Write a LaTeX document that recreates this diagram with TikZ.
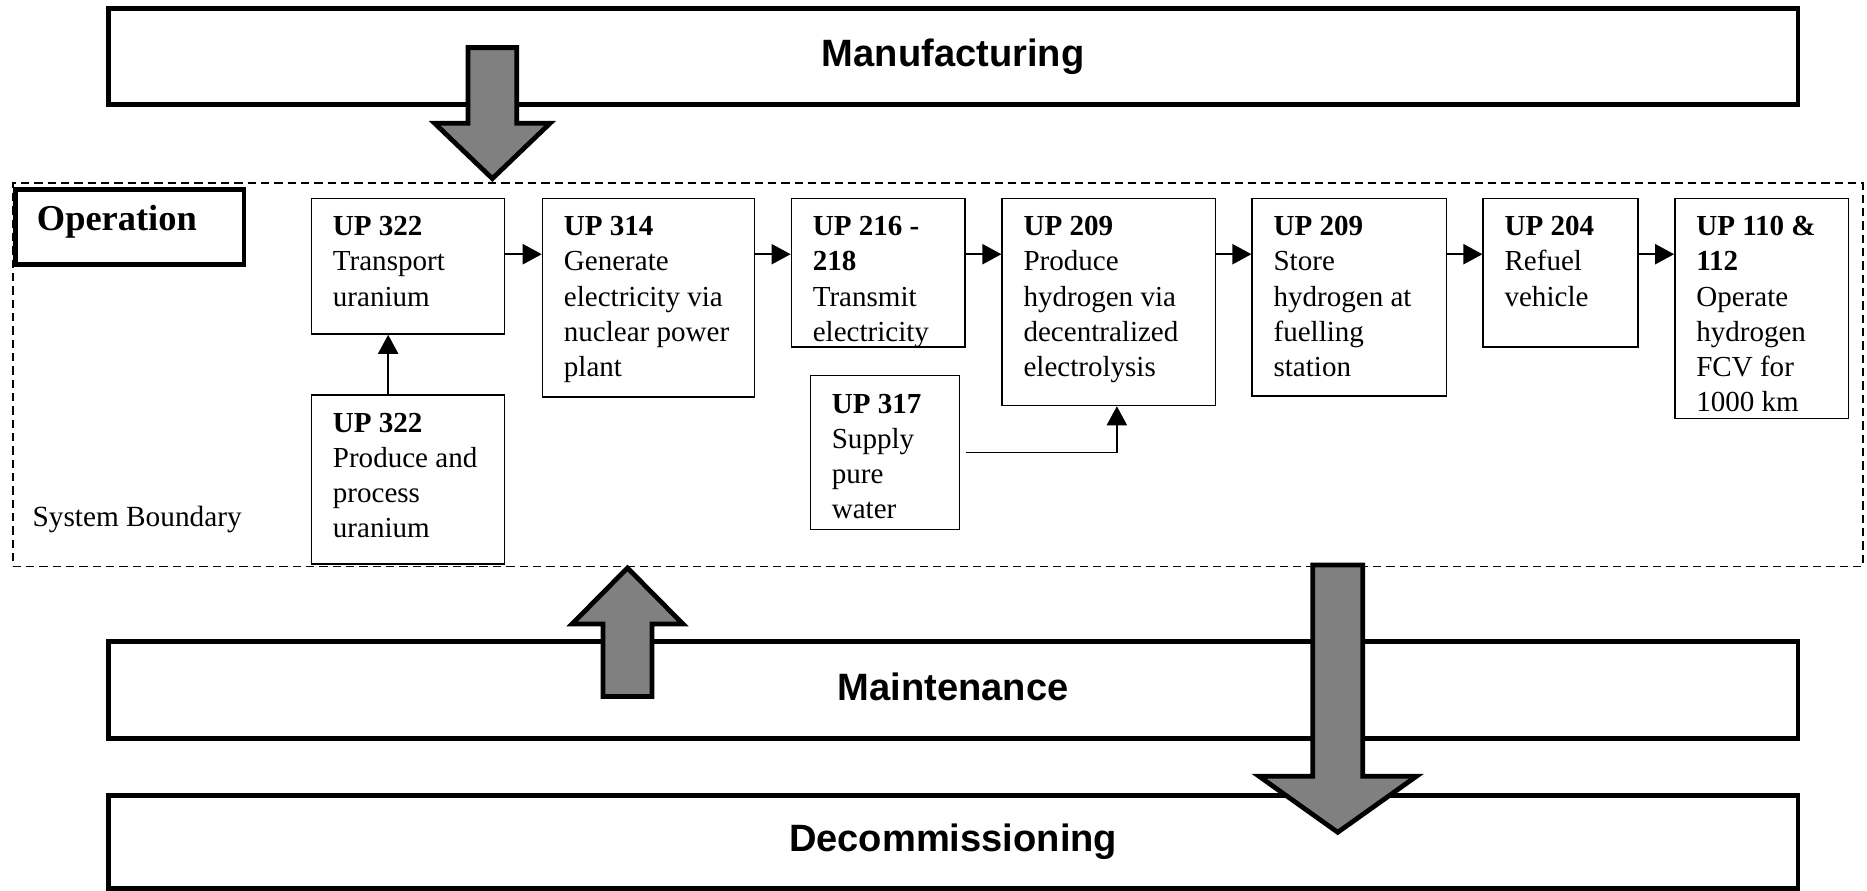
\documentclass[tikz,border=0pt]{standalone}
\usepackage{fontspec}
\setmainfont{Liberation Serif}
\newfontfamily\phasefont{Liberation Sans}
\usetikzlibrary{arrows.meta}
\definecolor{blockgray}{RGB}{128,128,128}

% text cell: width, height, first baseline depth, content
\newcommand\cellbox[4]{%
  \parbox[t][#2][t]{#1}{\raggedright\leftskip=9pt\rule{0pt}{#3}#4}}

\tikzset{
  upbox/.style={draw, line width=0.6pt, fill=white, inner sep=0pt, anchor=north west,
    font=\fontsize{12.2pt}{14.75pt}\selectfont},
  opbox/.style={draw, line width=2pt, fill=white, inner sep=0pt, anchor=north west,
    font=\bfseries\fontsize{15.3pt}{18pt}\selectfont},
  phase/.style={draw, line width=2pt, fill=white, inner sep=0pt,
    minimum width=709.5pt, minimum height=40.5pt,
    font=\phasefont\bfseries\fontsize{16pt}{19pt}\selectfont,
    text height=10pt, text depth=1.5pt},
  boundary/.style={draw, line width=0.7pt, dash pattern=on 3.5pt off 2.1pt,
    inner sep=0pt, anchor=north west},
  flow/.style={line width=0.6pt, -{Triangle[length=8pt,width=8.5pt]}},
  block/.style={draw, line width=2pt, fill=blockgray, line join=miter},
}

\begin{document}
\begin{tikzpicture}[x=0.5pt, y=-0.5pt]
\useasboundingbox (0,0) rectangle (1568,748);

% system boundary
\node[boundary, minimum width=777pt, minimum height=161pt] (sysb) at (10,153) {};
\node[anchor=base west, inner sep=0pt, font=\fontsize{12.3pt}{14.75pt}\selectfont]
  (sblabel) at (27,442) {System Boundary};

% operation label
\node[opbox] (oper) at (11,157) {\cellbox{96pt}{31.5pt}{17.5pt}{Operation}};

% unit processes
\node[upbox] (t322) at (261,166) {\cellbox{81pt}{57pt}{15.75pt}{\textbf{UP 322}\\Transport\\uranium}};
\node[upbox] (p322) at (261,331) {\cellbox{81pt}{71pt}{15.75pt}{\textbf{UP 322}\\Produce and\\process\\uranium}};
\node[upbox] (g314) at (455,166) {\cellbox{89pt}{83.5pt}{15.75pt}{\textbf{UP 314}\\Generate\\electricity via\\nuclear power\\plant}};
\node[upbox] (e216) at (664,166) {\cellbox{73pt}{62.5pt}{15.75pt}{\textbf{UP 216 -}\\\textbf{218}\\Transmit\\electricity}};
\node[upbox] (h209) at (841,166) {\cellbox{89.5pt}{87pt}{15.75pt}{\textbf{UP 209}\\Produce\\hydrogen via\\decentralized\\electrolysis}};
\node[upbox] (w317) at (680,315) {\cellbox{62.5pt}{64.5pt}{15.75pt}{\textbf{UP 317}\\Supply\\pure\\water}};
\node[upbox] (s209) at (1051,166) {\cellbox{81.5pt}{83pt}{15.75pt}{\textbf{UP 209}\\Store\\hydrogen at\\fuelling\\station}};
\node[upbox] (r204) at (1245,166) {\cellbox{65pt}{62.5pt}{15.75pt}{\textbf{UP 204}\\Refuel\\vehicle}};
\node[upbox] (f110) at (1406,166) {\cellbox{73pt}{92.5pt}{15.75pt}{\textbf{UP 110 \&}\\\textbf{112}\\Operate\\hydrogen\\FCV for\\1000 km}};

% process chain
\coordinate (row) at (0,213.5);
\coordinate (upcol) at (326,0);
\coordinate (watercol) at (938,0);
\draw[flow] (t322.east |- row) -- (g314.west |- row);
\draw[flow] (g314.east |- row) -- (e216.west |- row);
\draw[flow] (e216.east |- row) -- (h209.west |- row);
\draw[flow] (h209.east |- row) -- (s209.west |- row);
\draw[flow] (s209.east |- row) -- (r204.west |- row);
\draw[flow] (r204.east |- row) -- (f110.west |- row);
\draw[flow] (p322.north -| upcol) -- (t322.south -| upcol);
\draw[flow] ([xshift=2.5pt]w317.east) -| (h209.south -| watercol);

% life-cycle phases
\node[phase] (manu) at (800.5,47.5) {Manufacturing};
\node[phase] (main) at (800.5,579.5) {Maintenance};
\node[phase, minimum height=39pt] (deco) at (800.5,707) {Decommissioning};

% block arrows between phases and operation
\draw[block] (393,40) -- (434,40) -- (434,103.5) -- (462,103.5) -- (413.5,150)
  -- (365,103.5) -- (393,103.5) -- cycle;
\draw[block] (506.5,585) -- (547.5,585) -- (547.5,524) -- (573.5,524) -- (527,477)
  -- (480.5,524) -- (506.5,524) -- cycle;
\draw[block] (1102.5,474.5) -- (1144.5,474.5) -- (1144.5,652) -- (1189.5,652)
  -- (1123.5,699) -- (1057.5,652) -- (1102.5,652) -- cycle;
\end{tikzpicture}
\end{document}
